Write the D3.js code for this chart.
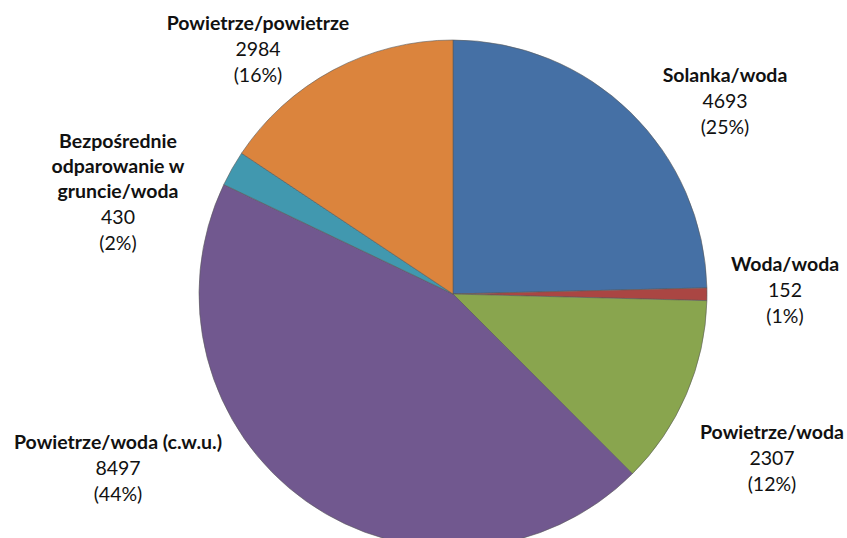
<!DOCTYPE html>
<html lang="pl">
<head>
  <meta charset="UTF-8">
  <title>Pompy ciepła</title>
  <style>
    body { margin: 0; background: #fff; }
    text { font-family: Lato, "Open Sans", sans-serif; fill: #111; }
  </style>
</head>
<body>
  <svg id="svg" width="847" height="538"></svg>

  <script src="https://d3js.org/d3.v7.min.js"></script>
  <script>
    // values, clockwise from 12 o'clock
    const categories = ['Solanka/woda', 'Woda/woda', 'Powietrze/woda',
      'Powietrze/woda (c.w.u.)', 'Bezpośrednie odparowanie w gruncie/woda', 'Powietrze/powietrze']
    const values = [4693, 152, 2307, 8497, 430, 2984]
    const percents = ['25%', '1%', '12%', '44%', '2%', '16%']
    const colors = ['#4570a5', '#aa4643', '#89a54e', '#71588f', '#4198af', '#db843d']

    // label placement (centre x, first line y) and line breaks
    const labelLines = [
      ['Solanka/woda'],
      ['Woda/woda'],
      ['Powietrze/woda'],
      ['Powietrze/woda (c.w.u.)'],
      ['Bezpośrednie', 'odparowanie w', 'gruncie/woda'],
      ['Powietrze/powietrze']
    ]
    const labelPos = [[725, 82], [785, 271], [772, 439], [118, 449], [118, 148], [258, 30]]

    const cx = 453, cy = 294, r = 254
    const svg = d3.select('#svg')

    const pie = d3.pie().sort(null).value(d => d)
    const arc = d3.arc().innerRadius(0).outerRadius(r)

    svg.append('g')
      .attr('transform', `translate(${cx},${cy})`)
      .selectAll('path')
      .data(pie(values))
      .enter()
      .append('path')
      .attr('d', arc)
      .attr('fill', (d, i) => colors[i])
      .attr('stroke', '#5a5a5a')
      .attr('stroke-width', 0.6)

    const labels = svg.selectAll('.lbl')
      .data(categories)
      .enter()
      .append('text')
      .attr('class', 'lbl')
      .attr('text-anchor', 'middle')
      .attr('font-size', 19.5)
      .attr('x', (d, i) => labelPos[i][0])
      .attr('y', (d, i) => labelPos[i][1])

    labels.each(function (d, i) {
      const t = d3.select(this)
      const x = labelPos[i][0]
      labelLines[i].forEach((line, j) => {
        t.append('tspan').attr('x', x).attr('dy', j === 0 ? 0 : 25)
          .attr('font-weight', 'bold').text(line)
      })
      t.append('tspan').attr('x', x).attr('dy', 26).text(values[i])
      t.append('tspan').attr('x', x).attr('dy', 26).text(`(${percents[i]})`)
    })
  </script>
</body>
</html>
